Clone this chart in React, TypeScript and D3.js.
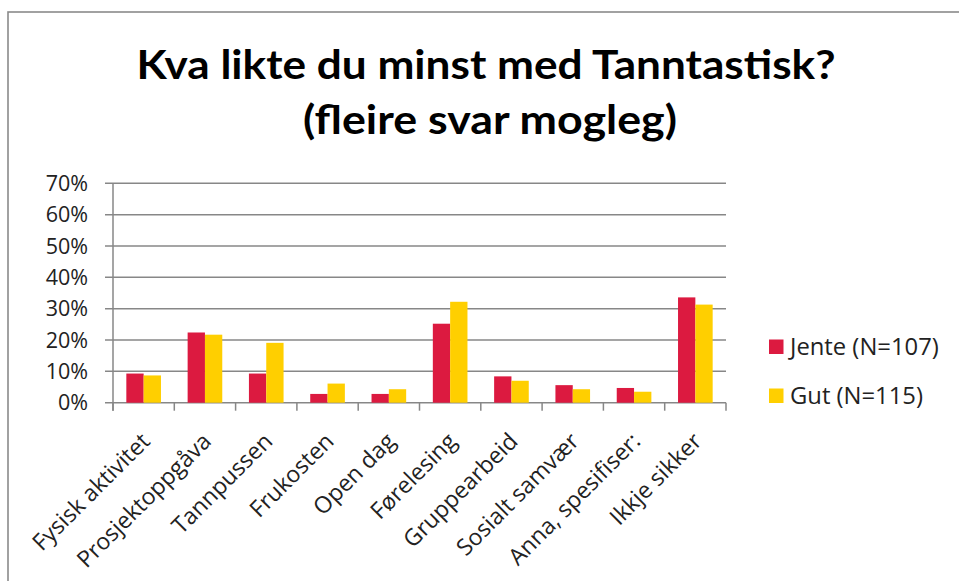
import React from "react";
import * as d3 from "d3";

const categories = [
  "Fysisk aktivitet",
  "Prosjektoppgåva",
  "Tannpussen",
  "Frukosten",
  "Open dag",
  "Førelesing",
  "Gruppearbeid",
  "Sosialt samvær",
  "Anna, spesifiser:",
  "Ikkje sikker",
];
const seriesNames = ["Jente (N=107)", "Gut (N=115)"];
const jente = [0.093, 0.224, 0.093, 0.028, 0.028, 0.252, 0.084, 0.056, 0.047, 0.336];
const gut = [0.087, 0.217, 0.191, 0.061, 0.043, 0.322, 0.07, 0.043, 0.035, 0.313];
const yTicks = [0, 0.1, 0.2, 0.3, 0.4, 0.5, 0.6, 0.7];
const titleLines = ["Kva likte du minst med Tanntastisk?", "(fleire svar mogleg)"];
const colors = ["#DC1A40", "#FFCF00"];

const W = 959;
const H = 581;
const TFONT = "Lato, 'Open Sans', sans-serif";
const FONT = "'Open Sans', Lato, sans-serif";

export default function App() {
  const x = d3.scaleBand<string>().domain(categories).range([113, 726]).paddingInner(0).paddingOuter(0);
  const bw = x.bandwidth();
  const inner = d3.scaleBand<string>().domain(seriesNames).range([bw * 0.2175, bw * (1 - 0.2175)]);
  const y = d3.scaleLinear().domain([0, 0.7]).range([402.7, 183.3]);
  const data = [jente, gut];
  const grid = "#878787";
  const boundaries = categories.map((c) => x(c) as number).concat([726]);

  return (
    <svg width={W} height={H} style={{ position: "absolute", left: 0, top: 0, background: "#fff" }}>
      <rect x={8} y={12} width={1000} height={700} fill="#fff" stroke="#8a8a8a" strokeWidth={1.6} />
      {/* title */}
      <text x={486} y={79} textAnchor="middle" fontFamily={TFONT} fontWeight={700} fontSize={40} fill="#000"
        textLength={699} lengthAdjust="spacingAndGlyphs">
        {titleLines[0]}
      </text>
      <text x={490} y={134} textAnchor="middle" fontFamily={TFONT} fontWeight={700} fontSize={40} fill="#000"
        textLength={374} lengthAdjust="spacingAndGlyphs">
        {titleLines[1]}
      </text>
      {/* gridlines */}
      {yTicks.map((t) => (
        <line key={t} x1={105} x2={726} y1={y(t)} y2={y(t)} stroke={grid} strokeWidth={1.5} />
      ))}
      {/* y axis */}
      <line x1={113} x2={113} y1={y(0.7)} y2={y(0) + 8} stroke={grid} strokeWidth={1.5} />
      {boundaries.map((b, i) => (
        <line key={i} x1={b} x2={b} y1={y(0)} y2={y(0) + 8} stroke={grid} strokeWidth={1.5} />
      ))}
      {yTicks.map((t) => (
        <text key={t} x={88} y={y(t)} dy="0.36em" textAnchor="end" fontFamily={FONT} fontSize={21.5} fill="#222">
          {d3.format(".0%")(t)}
        </text>
      ))}
      {/* bars */}
      {data.map((vals, si) =>
        vals.map((v, i) => (
          <rect
            key={si + "-" + i}
            x={(x(categories[i]) as number) + (inner(seriesNames[si]) as number)}
            y={y(v)}
            width={inner.bandwidth()}
            height={y(0) - y(v)}
            fill={colors[si]}
          />
        ))
      )}
      {/* x labels */}
      {categories.map((c) => {
        const cx = (x(c) as number) + bw / 2;
        return (
          <text key={c} transform={`translate(${cx + 2},${437}) rotate(-45)`} textAnchor="end" dy="0.35em"
            fontFamily={FONT} fontSize={23} fill="#222">
            {c}
          </text>
        );
      })}
      {/* legend */}
      {seriesNames.map((s, i) => (
        <g key={s} transform={`translate(769,${339.5 + i * 49})`}>
          <rect x={0} y={0} width={14.5} height={14.5} fill={colors[i]} />
          <text x={21} y={7.2} dy="0.36em" fontFamily={FONT} fontSize={23.8} fill="#222">
            {s}
          </text>
        </g>
      ))}
    </svg>
  );
}
